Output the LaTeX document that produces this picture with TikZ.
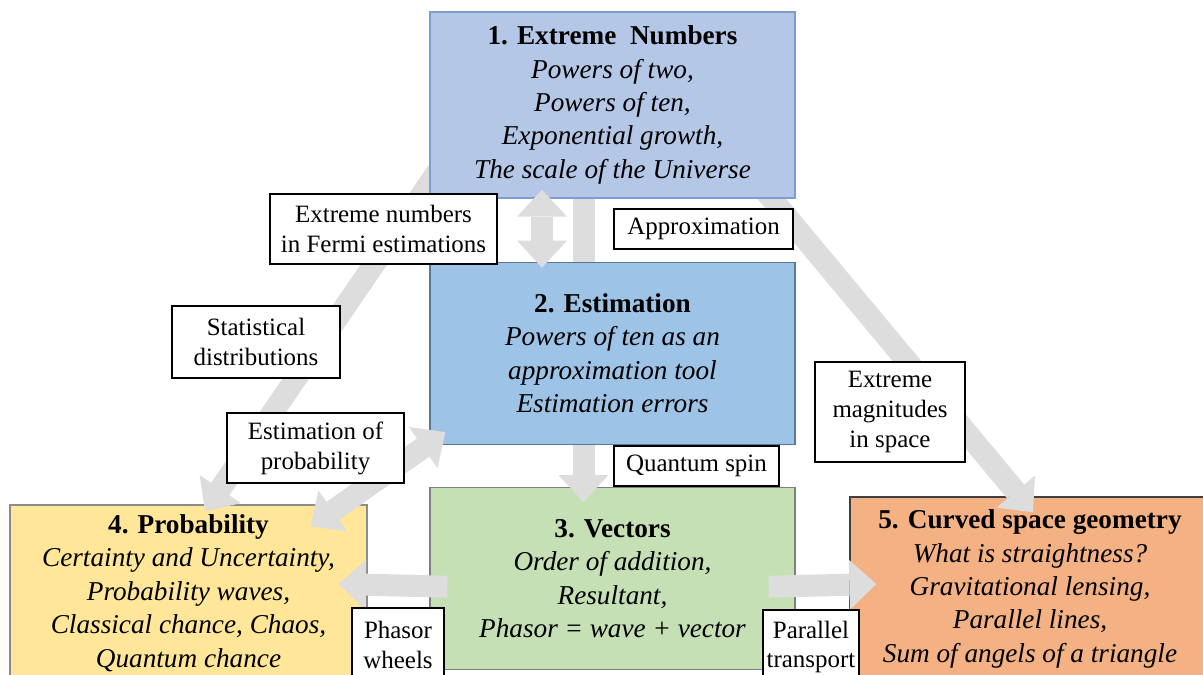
\documentclass[tikz,border=0pt]{standalone}
\usepackage{fontspec}
\setmainfont{Liberation Serif}
\usepackage{tikz}
\usetikzlibrary{positioning,arrows.meta,calc}
\definecolor{numfill}{HTML}{B4C7E7}
\definecolor{numline}{HTML}{7F9CD0}
\definecolor{estfill}{HTML}{9DC3E6}
\definecolor{estline}{HTML}{5A7896}
\definecolor{vecfill}{HTML}{C5E0B4}
\definecolor{vecline}{HTML}{7F7F7F}
\definecolor{probfill}{HTML}{FFE699}
\definecolor{probline}{HTML}{8C8C8C}
\definecolor{curvfill}{HTML}{F4B183}
\definecolor{curvline}{HTML}{404040}
\definecolor{flowgray}{HTML}{DDDDDD}
\pgfdeclarelayer{lower}
\pgfdeclarelayer{mid}
\pgfsetlayers{lower,mid,main}

\begin{document}
\begin{tikzpicture}[
  x=0.02cm, y=-0.02cm,
  >={Triangle[width=1cm,length=0.54cm,line width=0pt]},
  topic/.style={
    rectangle, draw, line width=0.8pt, align=center,
    inner sep=2pt, minimum width=7.3cm, minimum height=3.64cm,
    font=\fontsize{15.5pt}{19pt}\selectfont\itshape
  },
  tag/.style={
    rectangle, draw=black, fill=white, line width=0.6pt, align=center,
    inner sep=2pt, font=\fontsize{14.2pt}{17pt}\selectfont
  },
  flow/.style={->, draw=flowgray, line width=0.44cm},
  twoway/.style={<->, draw=flowgray, line width=0.44cm}
]
\useasboundingbox (0,0) rectangle (1203,675);
\clip (0,0) rectangle (1203,675);

\node (n1) [topic, fill=numfill, draw=numline, minimum height=3.72cm] at (612.5,105)
  {\textup{\textbf{1. Extreme\ \ Numbers}}\\ Powers of two,\\ Powers of ten,\\
   Exponential growth,\\ The scale of the Universe};

\node (n2) [topic, fill=estfill, draw=estline, below=1.26cm of n1]
  {\textup{\textbf{2. Estimation}}\\ Powers of ten as an\\ approximation tool\\
   Estimation errors};

\begin{pgfonlayer}{lower}
\clip (0,0) rectangle (1203,675);
\node (n3) [topic, fill=vecfill, draw=vecline, below=0.84cm of n2]
  {\textup{\textbf{3. Vectors}}\\ Order of addition,\\ Resultant,\\
   Phasor = wave + vector};

\node (n4) [topic, fill=probfill, draw=probline, minimum width=7.14cm,
  minimum height=3.52cm] at (188.5,593)
  {\textup{\textbf{4. Probability}}\\ Certainty and Uncertainty,\\
   Probability waves,\\ Classical chance, Chaos,\\ Quantum chance};

\node (n5) [topic, fill=curvfill, draw=curvline, minimum width=7.2cm,
  minimum height=3.68cm] at (1030,589)
  {\textup{\textbf{5. Curved space geometry}}\\ What is straightness?\\
   Gravitational lensing,\\ Parallel lines,\\ Sum of angels of a triangle};
\end{pgfonlayer}

\begin{pgfonlayer}{mid}
\draw[flow] ($(n1.south)+(-29,-48)$) -- ($(n3.north)+(-29,15)$);
\draw[flow] ($(n1.south west)+(43,-78)$) -- ($(n4.north)+(16.5,7)$);
\draw[flow] ($(n1.south east)+(-64,-48)$) -- ($(n5.north)+(3,16)$);
\end{pgfonlayer}

\draw[twoway] ($(n1.south)+(-70.5,-9)$) -- ($(n2.north)+(-70.5,6)$);
\draw[twoway] ($(n2.south west)+(16,-13)$) -- ($(n4.north east)+(-57,22)$);
\draw[flow] ($(n3.west)+(18,8)$) -- ($(n4.east)+(-29,-9)$);
\draw[flow] ($(n3.east)+(-27,8)$) -- ($(n5.west)+(27,-5)$);

\node (fermi) [tag, minimum width=4.54cm, minimum height=1.4cm] at (383.5,229)
  {Extreme numbers\\ in Fermi estimations};
\node (approx) [tag, minimum width=3.58cm, minimum height=0.8cm] at (703.5,229)
  {Approximation};
\node (stat) [tag, minimum width=3.36cm, minimum height=1.44cm] at (256,342)
  {Statistical\\ distributions};
\node (estprob) [tag, minimum width=3.54cm, minimum height=1.4cm] at (315.5,448)
  {Estimation of\\ probability};
\node (magn) [tag, minimum width=3cm, minimum height=2cm] at (890,412)
  {Extreme\\ magnitudes\\ in space};
\node (spin) [tag, minimum width=3.3cm, minimum height=0.8cm] at (696.5,466)
  {Quantum spin};
\node (phasor) [tag, minimum width=1.84cm, minimum height=1.48cm] at (398,645)
  {Phasor\\ wheels};
\node (parallel) [tag, minimum width=1.92cm, minimum height=1.48cm] at (811,647)
  {Parallel\\ transport};
\end{tikzpicture}
\end{document}
